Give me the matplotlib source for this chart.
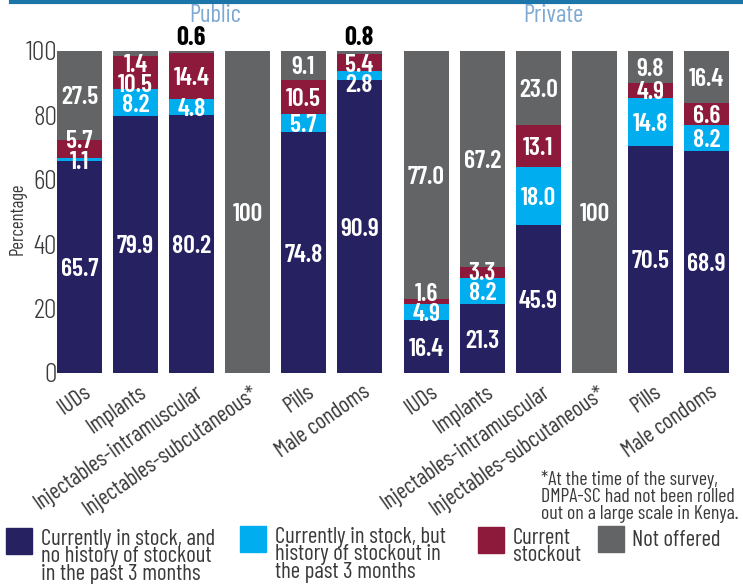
import matplotlib
matplotlib.use("Agg")
import matplotlib.pyplot as plt
import matplotlib.transforms as mtransforms
from matplotlib.patches import Rectangle
from matplotlib.lines import Line2D

plt.rcParams['font.family'] = ['Barlow Condensed', 'DejaVu Sans']

categories = ["IUDs", "Implants", "Injectables-intramuscular",
              "Injectables-subcutaneous*", "Pills", "Male condoms"]
series_names = ["Currently in stock, and\nno history of stockout\nin the past 3 months",
                "Currently in stock, but\nhistory of stockout in\nthe past 3 months",
                "Current\nstockout",
                "Not offered"]
panel_titles = ["Public", "Private"]
yticks = [0, 20, 40, 60, 80, 100]
public_instock = [65.7, 79.9, 80.2, 0, 74.8, 90.9]
public_history = [1.1, 8.2, 4.8, 0, 5.7, 2.8]
public_stockout = [5.7, 10.5, 14.4, 0, 10.5, 5.4]
public_notoffered = [27.5, 1.4, 0.6, 100, 9.1, 0.8]
private_instock = [16.4, 21.3, 45.9, 0, 70.5, 68.9]
private_history = [4.9, 8.2, 18.0, 0, 14.8, 8.2]
private_stockout = [1.6, 3.3, 13.1, 0, 4.9, 6.6]
private_notoffered = [77.0, 67.2, 23.0, 100, 9.8, 16.4]
footnote = "*At the time of the survey,\nDMPA-SC had not been rolled\nout on a large scale in Kenya."

colors = ["#262262", "#00AEEF", "#8E1A3B", "#636466"]
title_color = "#7FA9D3"
text_color = "#3a3a3a"

W, H = 743, 584
fig = plt.figure(figsize=(W / 100, H / 100), dpi=100)

def fx(px):
    return px / W

def fy(py):
    return 1 - py / H

ax_bottom = fy(373)
ax_h = (373 - 51) / H
ax1 = fig.add_axes([fx(51.4), ax_bottom, 336 / W, ax_h])
ax2 = fig.add_axes([fx(398.4), ax_bottom, 336 / W, ax_h])

def draw(ax, data, show_y):
    x = list(range(len(categories)))
    bottoms = [0.0] * len(categories)
    for s, vals in enumerate(data):
        ax.bar(x, vals, bottom=bottoms, width=0.8, color=colors[s], linewidth=0, zorder=2)
        bottoms = [b + v for b, v in zip(bottoms, vals)]
    gap = 6.3
    cap = 96.4
    for i in x:
        labs = []
        b = 0.0
        for s, vals in enumerate(data):
            v = vals[i]
            if v > 0:
                labs.append([b + v / 2, v, s])
            b += v
        above = [l for l in labs if l[1] < 1]
        inner = [l for l in labs if l[1] >= 1]
        for k in range(1, len(inner)):
            inner[k][0] = max(inner[k][0], inner[k - 1][0] + gap)
        for k in range(len(inner) - 1, -1, -1):
            lim = cap if k == len(inner) - 1 else inner[k + 1][0] - gap
            inner[k][0] = min(inner[k][0], lim)
        for yv, v, s in inner:
            txt = "100" if v == 100 else f"{v:.1f}"
            ax.text(i, yv, txt, ha="center", va="center_baseline", color="white",
                    fontsize=18.5, fontweight=600, zorder=3)
        for yv, v, s in above:
            ax.text(i, 100.4, f"{v:.1f}", ha="center", va="bottom", color="black",
                    fontsize=19, fontweight=700, zorder=3)
    ax.set_xlim(-0.5, len(categories) - 0.5)
    ax.set_ylim(0, 100)
    for sp in ax.spines.values():
        sp.set_visible(False)
    ax.set_yticks(yticks)
    ax.tick_params(axis="both", length=0)
    if show_y:
        ax.set_yticklabels([str(t) for t in yticks], fontsize=20, color=text_color, fontweight=300)
        ax.tick_params(axis="y", pad=-4)
        ax.set_ylabel("Percentage", fontsize=13.5, color=text_color, fontweight=400)
        ax.yaxis.set_label_coords(-0.075, 0.478)
    else:
        ax.set_yticklabels([])
    ax.set_xticks(x)
    ax.set_xticklabels(categories, rotation=35, ha="right", va="top",
                       rotation_mode="anchor", fontsize=16.5, color=text_color, fontweight=400)
    off = mtransforms.ScaledTranslation(3 / 100, -4 / 100, fig.dpi_scale_trans)
    for lab in ax.get_xticklabels():
        lab.set_transform(lab.get_transform() + off)

draw(ax1, [public_instock, public_history, public_stockout, public_notoffered], True)
draw(ax2, [private_instock, private_history, private_stockout, private_notoffered], False)

fig.text(fx(215), fy(15.5), panel_titles[0], ha="center", va="center", color=title_color, fontsize=18)
fig.text(fx(553), fy(15.5), panel_titles[1], ha="center", va="center", color=title_color, fontsize=18)

fig.add_artist(Line2D([fx(11), 1], [fy(1.5), fy(1.5)], color="#1B75A8", linewidth=3))

fig.text(fx(541), fy(470), footnote, ha="left", va="top", fontsize=14.3,
         color=text_color, linespacing=0.92, fontweight=400)

legend_items = [(6, 528, 41), (240, 526, 275), (478, 527, 513), (598, 526, 632)]
for k, ((sx, sy, tx), c, name) in enumerate(zip(legend_items, colors, series_names)):
    fig.add_artist(Rectangle((fx(sx), fy(sy + 26)), 26 / W, 26 / H, color=c,
                             transform=fig.transFigure))
    if k == 3:
        fig.text(fx(tx), fy(540), name, ha="left", va="center", fontsize=16.5,
                 color=text_color, fontweight=400)
    else:
        fig.text(fx(tx), fy(sy + 1), name, ha="left", va="top", fontsize=16.5,
                 color=text_color, linespacing=0.78, fontweight=400)

fig.savefig("out.png", dpi=100)
